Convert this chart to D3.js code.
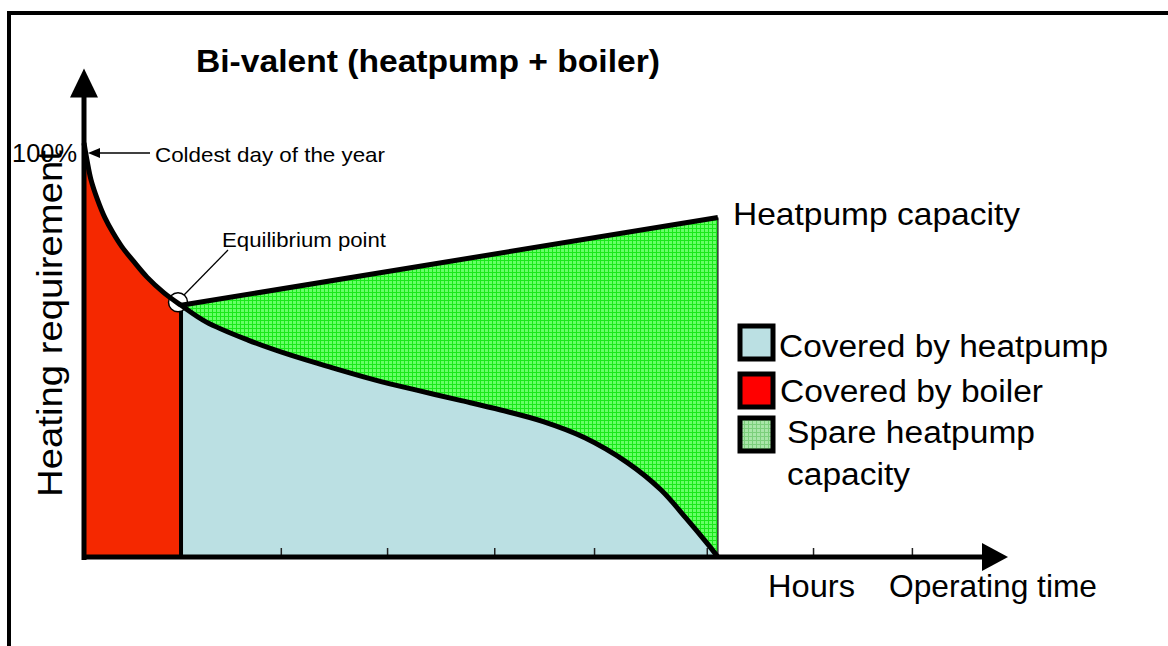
<!DOCTYPE html>
<html>
<head>
<meta charset="utf-8">
<script src="https://cdn.jsdelivr.net/npm/d3@7"></script>
<style>
  body { margin: 0; background: #fff; }
  text { font-family: "Liberation Sans", Arial, sans-serif; fill: #000; }
</style>
</head>
<body>
<script>
// Load duration curve (operating time %, heating requirement %)
var loadHours = [0, 0.32, 0.76, 1.48, 2.27, 3.14, 4.11, 5.26, 6.82, 8.66, 10.5,
    13.2, 17.75, 22.3, 26.9, 31.45, 36.0, 40.6, 45.1, 49.7, 54.2, 58.8, 62.4, 65.15, 67.4, 68.6];
var loadPercent = [100, 95.9, 91.1, 86.2, 81.9, 78.3, 74.9, 71.7, 67.6, 63.8, 60.8,
    56.8, 52.4, 48.8, 45.7, 42.8, 40.3, 37.9, 35.5, 32.7, 28.8, 22.8, 16.3, 9.4, 3.4, 0];

// Heatpump capacity line
var capacityHours = [10.5, 68.6];
var capacityPercent = [60.8, 82];

// Equilibrium point (boiler / heatpump split)
var equilibriumHours = 10.5;

// Tick marks on the time axis
var xTicks = [21.3, 32.8, 44.4, 55.2, 67.4, 78.9, 89.6];

var legendLabels = [["Covered by heatpump"], ["Covered by boiler"], ["Spare heatpump", "capacity"]];

var svgWidth = 1168;
var svgHeight = 646;

var svg = d3.select("body")
    .append("svg")
    .attr("width", svgWidth)
    .attr("height", svgHeight);

var xScale = d3.scaleLinear().domain([0, 100]).range([84, 1008]);
var yScale = d3.scaleLinear().domain([0, 100]).range([557, 143]);

var data = loadHours.map(function (h, i) { return { x: h, y: loadPercent[i] }; });
var boilerData = data.filter(d => d.x <= equilibriumHours);
var pumpData = data.filter(d => d.x >= equilibriumHours);
var capacityAt = d3.scaleLinear().domain(capacityHours).range(capacityPercent);
var smooth = d3.curveCatmullRom.alpha(0.5);

// patterns
var defs = svg.append("defs");
var pat = defs.append("pattern")
    .attr("id", "grid")
    .attr("patternUnits", "userSpaceOnUse")
    .attr("width", 4).attr("height", 4);
pat.append("rect").attr("width", 4).attr("height", 4).attr("fill", "#66ff66");
pat.append("path").attr("d", "M0 0.5H4M0.5 0V4").attr("stroke", "#1ae81a").attr("stroke-width", 1);

var pat2 = defs.append("pattern")
    .attr("id", "grid2")
    .attr("patternUnits", "userSpaceOnUse")
    .attr("width", 4).attr("height", 4);
pat2.append("rect").attr("width", 4).attr("height", 4).attr("fill", "#a9e6a9");
pat2.append("path").attr("d", "M0 0.5H4M0.5 0V4").attr("stroke", "#7ccf7c").attr("stroke-width", 1);

// frame
svg.append("path")
    .attr("d", "M9 646V13H1168")
    .attr("fill", "none")
    .attr("stroke", "#000")
    .attr("stroke-width", 4);

// areas
var area = d3.area()
    .x(d => xScale(d.x))
    .y0(yScale(0))
    .y1(d => yScale(d.y))
    .curve(smooth);

svg.append("path").datum(boilerData).attr("d", area).attr("fill", "#f52800");
svg.append("path").datum(pumpData).attr("d", area).attr("fill", "#bbe0e3");

var spareArea = d3.area()
    .x(d => xScale(d.x))
    .y0(d => yScale(d.y))
    .y1(d => yScale(capacityAt(d.x)))
    .curve(smooth);

svg.append("path").datum(pumpData).attr("d", spareArea).attr("fill", "url(#grid)");

// right edge of the spare capacity
svg.append("line")
    .attr("x1", xScale(capacityHours[1])).attr("x2", xScale(capacityHours[1]))
    .attr("y1", yScale(capacityPercent[1])).attr("y2", yScale(0))
    .attr("stroke", "#333").attr("stroke-width", 1.5);

// boundary boiler / heatpump
svg.append("line")
    .attr("x1", xScale(equilibriumHours)).attr("x2", xScale(equilibriumHours))
    .attr("y1", yScale(capacityAt(equilibriumHours))).attr("y2", yScale(0))
    .attr("stroke", "#000").attr("stroke-width", 4);

// ticks
var bottomAxis = d3.axisBottom(xScale).tickValues(xTicks).tickSize(-9).tickFormat("");
var axisG = svg.append("g")
    .attr("transform", `translate(0, ${yScale(0)})`)
    .call(bottomAxis);
axisG.select(".domain").remove();
axisG.selectAll("line").attr("stroke", "#222").attr("stroke-width", 1.5);

// equilibrium circle
svg.append("circle")
    .attr("cx", xScale(equilibriumHours) - 3)
    .attr("cy", yScale(capacityAt(equilibriumHours)) - 3)
    .attr("r", 9.5)
    .attr("fill", "#fff")
    .attr("stroke", "#000")
    .attr("stroke-width", 1.5);

// load curve
var line = d3.line()
    .x(d => xScale(d.x))
    .y(d => yScale(d.y))
    .curve(smooth);

svg.append("path").datum(data).attr("d", line)
    .attr("fill", "none").attr("stroke", "#000").attr("stroke-width", 5);

// capacity line
svg.append("line")
    .attr("x1", xScale(capacityHours[0])).attr("x2", xScale(capacityHours[1]))
    .attr("y1", yScale(capacityPercent[0])).attr("y2", yScale(capacityPercent[1]))
    .attr("stroke", "#000").attr("stroke-width", 5);

// axes with arrows
var yTop = yScale(118);
svg.append("line")
    .attr("x1", xScale(0)).attr("x2", xScale(0))
    .attr("y1", yScale(0) + 3).attr("y2", yTop + 20)
    .attr("stroke", "#000").attr("stroke-width", 5);
svg.append("path")
    .attr("d", `M${xScale(0) - 14},${yTop + 29}L${xScale(0)},${yTop}L${xScale(0) + 14},${yTop + 29}Z`)
    .attr("fill", "#000");

var xEnd = xScale(100);
svg.append("line")
    .attr("x1", xScale(0) - 2).attr("x2", xEnd - 20)
    .attr("y1", yScale(0)).attr("y2", yScale(0))
    .attr("stroke", "#000").attr("stroke-width", 5);
svg.append("path")
    .attr("d", `M${xEnd - 26},${yScale(0) - 14}L${xEnd},${yScale(0)}L${xEnd - 26},${yScale(0) + 14}Z`)
    .attr("fill", "#000");

// text helper: stretches text to the width seen in the original
function label(x, y, size, width, str, bold) {
    var t = svg.append("text")
        .attr("x", x).attr("y", y)
        .attr("textLength", width)
        .attr("lengthAdjust", "spacingAndGlyphs")
        .style("font-size", size + "px")
        .text(str);
    if (bold) t.style("font-weight", "bold");
    return t;
}

label(196, 72, 31, 464, "Bi-valent (heatpump + boiler)", true);
label(12, 162, 25, 65, "100%");
label(155, 162, 21, 230, "Coldest day of the year");

// coldest day arrow
svg.append("line")
    .attr("x1", 150).attr("x2", 96)
    .attr("y1", 153).attr("y2", 153)
    .attr("stroke", "#000").attr("stroke-width", 1.5);
svg.append("path")
    .attr("d", "M88,153L100,148L100,158Z")
    .attr("fill", "#000");

// equilibrium label + leader
label(222, 247, 20, 164, "Equilibrium point");
svg.append("line")
    .attr("x1", 184).attr("x2", 228)
    .attr("y1", 295).attr("y2", 250)
    .attr("stroke", "#000").attr("stroke-width", 1.3);

label(733, 225, 32, 287, "Heatpump capacity");

svg.append("text")
    .attr("transform", "translate(62, 497) rotate(-90)")
    .attr("textLength", 347)
    .attr("lengthAdjust", "spacingAndGlyphs")
    .style("font-size", "35px")
    .text("Heating requirement");

label(768, 597, 32, 87, "Hours");
label(889, 597, 32, 208, "Operating time");

// legend
var legendFills = ["#bbe0e3", "#ff0000", "url(#grid2)"];
var legendBoxY = [326, 374, 418];
var legendTextX = [779, 780, 787];
var legendTextY = [357, 402, 443];
var legendTextW = [[329], [263], [248, 123]];

legendLabels.forEach(function (lines, i) {
    svg.append("rect")
        .attr("x", 740).attr("y", legendBoxY[i])
        .attr("width", 33).attr("height", 33)
        .attr("fill", legendFills[i])
        .attr("stroke", "#000").attr("stroke-width", 5);
    lines.forEach(function (t, j) {
        label(legendTextX[i], legendTextY[i] + j * 42, 31, legendTextW[i][j], t);
    });
});
</script>
</body>
</html>
